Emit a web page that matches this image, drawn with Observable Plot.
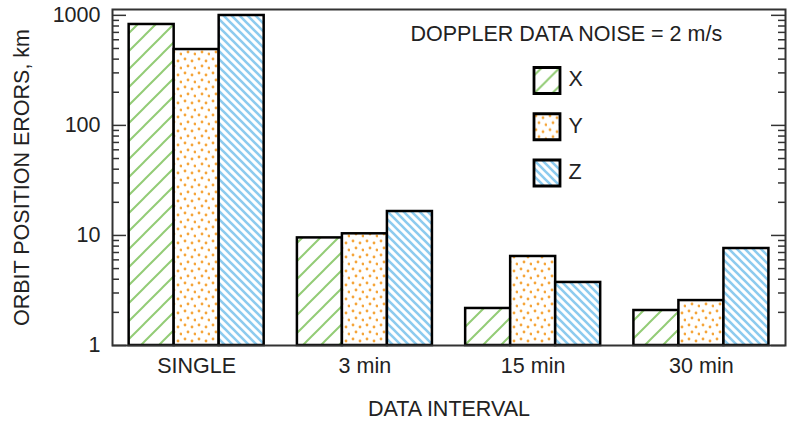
<!DOCTYPE html>
<html><head><meta charset="utf-8">
<script src="https://cdn.jsdelivr.net/npm/d3@7"></script>
<script src="https://cdn.jsdelivr.net/npm/@observablehq/plot@0.6"></script>
<style>body{margin:0;background:#fff;} svg{font-family:"Liberation Sans",Arial,sans-serif;}</style>
</head><body><div id="chart"></div>
<script>
const categories = ["SINGLE", "3 min", "15 min", "30 min"];
const seriesNames = ["X", "Y", "Z"];
const valuesX = [826, 9.5, 2.17, 2.08];
const valuesY = [489, 10.35, 6.44, 2.56];
const valuesZ = [997, 16.5, 3.74, 7.61];
const yTickValues = [1, 10, 100, 1000];
const legendTitle = "DOPPLER DATA NOISE = 2 m/s";
const xLabel = "DATA INTERVAL";
const yLabel = "ORBIT POSITION ERORS, km";

const W = 790, H = 423;
const mL = 112, mR = 5, mT = 9, mB = 78;
const frameW = W - mL - mR;
const groupPad = 0.099, barW = 0.2675;
const FS = 21.5;

const seriesValues = [valuesX, valuesY, valuesZ];
const bars = [];
categories.forEach((c, gi) => seriesNames.forEach((s, si) => bars.push({
  category: c, series: s, value: seriesValues[si][gi],
  x1: gi + groupPad + si * barW, x2: gi + groupPad + (si + 1) * barW
})));

const minorTicks = [];
for (const d of [1, 10, 100]) for (let k = 2; k <= 9; k++) minorTicks.push(d * k);

const patternIds = {X: "patX", Y: "patY", Z: "patZ"};

function defs() {
  const g = d3.create("svg:defs");
  const px = g.append("pattern").attr("id", "patX").attr("patternUnits", "userSpaceOnUse").attr("width", 18).attr("height", 18);
  px.append("rect").attr("width", 18).attr("height", 18).attr("fill", "white");
  px.append("path").attr("d", "M-4.5,4.5L4.5,-4.5M0,18L18,0M13.5,22.5L22.5,13.5").attr("stroke", "#93cc76").attr("stroke-width", 2);
  const py = g.append("pattern").attr("id", "patY").attr("patternUnits", "userSpaceOnUse").attr("width", 14).attr("height", 14);
  py.append("rect").attr("width", 14).attr("height", 14).attr("fill", "white");
  for (const [cx, cy] of [[3, 3], [10, 5], [6, 10], [13, 12]]) {
    py.append("circle").attr("cx", cx).attr("cy", cy).attr("r", 1.4).attr("fill", "#f5a53a");
  }
  const pz = g.append("pattern").attr("id", "patZ").attr("patternUnits", "userSpaceOnUse").attr("width", 8).attr("height", 8);
  pz.append("rect").attr("width", 8).attr("height", 8).attr("fill", "white");
  pz.append("path").attr("d", "M0,0L8,8M-2,6L2,10M6,-2L10,2").attr("stroke", "#8ccbef").attr("stroke-width", 2.6);
  return g.node();
}

const legendMarks = [];
seriesNames.forEach((s, i) => {
  legendMarks.push(Plot.dot([s], {frameAnchor: "top-left", dx: 434.5, dy: 71 + i * 46.25, symbol: "square", r: 14.67,
    fill: `url(#${patternIds[s]})`, stroke: "black", strokeWidth: 2.8}));
  legendMarks.push(Plot.text([s], {frameAnchor: "top-left", dx: 456, dy: 70 + i * 46.25, text: d => d, textAnchor: "start", lineAnchor: "middle", fontSize: FS, fill: "#222"}));
});

const plot = Plot.plot({
  width: W, height: H,
  marginLeft: mL, marginRight: mR, marginTop: mT, marginBottom: mB,
  style: {fontFamily: '"Liberation Sans", Arial, sans-serif', fontSize: FS + "px", color: "#222", background: "white"},
  x: {domain: [0, 4], axis: null},
  y: {type: "log", domain: [1, 1130], axis: null},
  marks: [
    defs,
    ...seriesNames.map(s => Plot.rect(bars.filter(b => b.series === s), {
      x1: "x1", x2: "x2", y1: 1, y2: "value",
      fill: `url(#${patternIds[s]})`, stroke: "black", strokeWidth: 2.5
    })),
    Plot.ruleY(minorTicks, {y: d => d, insetRight: frameW - 7, stroke: "#333", strokeWidth: 1.5}),
    Plot.ruleY(minorTicks, {y: d => d, insetLeft: frameW - 7, stroke: "#333", strokeWidth: 1.5}),
    Plot.ruleY(yTickValues, {y: d => d, insetRight: frameW - 14, stroke: "#333", strokeWidth: 1.5}),
    Plot.ruleY(yTickValues, {y: d => d, insetLeft: frameW - 14, stroke: "#333", strokeWidth: 1.5}),
    Plot.frame({stroke: "#333", strokeWidth: 2}),
    Plot.axisY({ticks: yTickValues, tickSize: 0, tickPadding: 12, tickFormat: d => String(d), fontSize: FS, label: null}),
    Plot.axisX({ticks: categories.map((c, i) => i + 0.5), tickFormat: d => categories[Math.floor(d)], tickSize: 0, tickPadding: 12, fontSize: FS, label: null}),
    Plot.text([xLabel], {frameAnchor: "bottom", dy: 64, text: d => d, lineAnchor: "middle", fontSize: FS, fill: "#222"}),
    Plot.text([yLabel], {frameAnchor: "left", dx: -90, rotate: -90, text: d => d, textAnchor: "middle", lineAnchor: "middle", fontSize: FS, fill: "#222"}),
    Plot.text([legendTitle], {frameAnchor: "top-left", dx: 298, dy: 25, text: d => d, textAnchor: "start", lineAnchor: "middle", fontSize: FS, fill: "#222"}),
    ...legendMarks
  ]
});
document.getElementById("chart").appendChild(plot);
</script>
</body></html>
